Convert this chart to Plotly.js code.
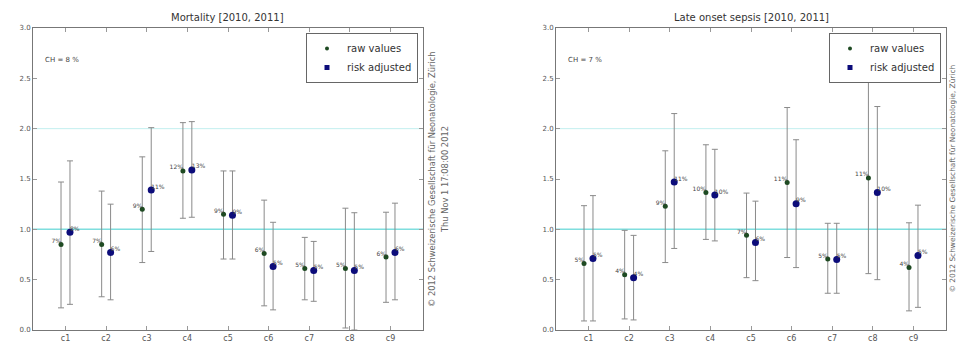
<!DOCTYPE html>
<html><head><meta charset="utf-8">
<script src="https://cdn.plot.ly/plotly-3.0.1.min.js"></script>
<style>html,body{margin:0;padding:0;background:#fff}#chart{width:957px;height:345px}</style>
</head><body><div id="chart"></div>
<script>
const categories = ['c1','c2','c3','c4','c5','c6','c7','c8','c9'];
const refLines = [1, 2];

// Mortality [2010, 2011], CH = 8 %
const mortRaw      = [0.85, 0.85, 1.20, 1.58, 1.15, 0.76, 0.61, 0.61, 0.725];
const mortRawLow   = [0.22, 0.33, 0.67, 1.11, 0.705, 0.24, 0.30, 0.02, 0.275];
const mortRawHigh  = [1.47, 1.38, 1.72, 2.06, 1.58, 1.29, 0.92, 1.21, 1.17];
const mortAdj      = [0.97, 0.77, 1.39, 1.59, 1.14, 0.63, 0.59, 0.59, 0.77];
const mortAdjLow   = [0.255, 0.30, 0.78, 1.12, 0.705, 0.20, 0.285, 0.0, 0.30];
const mortAdjHigh  = [1.68, 1.25, 2.01, 2.07, 1.58, 1.07, 0.88, 1.165, 1.26];
const mortRawLbl   = ['7%','7%','9%','12%','9%','6%','5%','5%','6%'];
const mortAdjLbl   = ['8%','6%','11%','13%','9%','5%','5%','5%','6%'];

// Late onset sepsis [2010, 2011], CH = 7 %
const sepRaw       = [0.66, 0.55, 1.23, 1.365, 0.94, 1.465, 0.705, 1.51, 0.62];
const sepRawLow    = [0.09, 0.11, 0.67, 0.90, 0.52, 0.72, 0.365, 0.56, 0.19];
const sepRawHigh   = [1.235, 0.99, 1.78, 1.84, 1.36, 2.21, 1.06, 2.475, 1.065];
const sepAdj       = [0.71, 0.52, 1.47, 1.34, 0.87, 1.255, 0.70, 1.365, 0.74];
const sepAdjLow    = [0.09, 0.10, 0.81, 0.885, 0.49, 0.62, 0.365, 0.50, 0.225];
const sepAdjHigh   = [1.335, 0.94, 2.15, 1.795, 1.28, 1.89, 1.06, 2.22, 1.24];
const sepRawLbl    = ['5%','4%','9%','10%','7%','11%','5%','11%','4%'];
const sepAdjLbl    = ['5%','4%','11%','10%','6%','9%','5%','10%','5%'];

const panels = [
  {title:'Mortality [2010, 2011]', ch:'CH = 8 %', raw:mortRaw, rl:mortRawLow, rh:mortRawHigh,
   adj:mortAdj, al:mortAdjLow, ah:mortAdjHigh, rlab:mortRawLbl, alab:mortAdjLbl},
  {title:'Late onset sepsis [2010, 2011]', ch:'CH = 7 %', raw:sepRaw, rl:sepRawLow, rh:sepRawHigh,
   adj:sepAdj, al:sepAdjLow, ah:sepAdjHigh, rlab:sepRawLbl, alab:sepAdjLbl}
];

const RAWC = '#1e4a22', ADJC = '#0c0c7a', ERRC = '#8a8a8a';
const OFF = 0.11;
const traces = [];
const shapes = [];
const annotations = [];
const layout = {
  width:957, height:345, margin:{l:0,r:0,t:0,b:0},
  paper_bgcolor:'#fff', plot_bgcolor:'#fff', showlegend:true,
  font:{family:'DejaVu Sans, sans-serif', color:'#333'},
  shapes:shapes, annotations:annotations
};
const domains = [[33/957, 423/957],[556/957, 946/957]];

panels.forEach((p, k) => {
  const xa = k === 0 ? 'x' : 'x2', ya = k === 0 ? 'y' : 'y2';
  const lg = k === 0 ? 'legend' : 'legend2';
  const pos = categories.map((c, i) => i + 1);
  const xr = pos.map(v => v - OFF), xj = pos.map(v => v + OFF);
  traces.push({
    type:'scatter', mode:'markers', x:xr, y:p.raw, xaxis:xa, yaxis:ya, showlegend:false,
    marker:{color:RAWC, size:5},
    error_y:{type:'data', symmetric:false, array:p.rh.map((h,i)=>h-p.raw[i]),
             arrayminus:p.raw.map((v,i)=>v-p.rl[i]), color:ERRC, thickness:1, width:3}
  });
  traces.push({
    type:'scatter', mode:'markers', x:xj, y:p.adj, xaxis:xa, yaxis:ya, showlegend:false,
    marker:{color:ADJC, size:7},
    error_y:{type:'data', symmetric:false, array:p.ah.map((h,i)=>h-p.adj[i]),
             arrayminus:p.adj.map((v,i)=>v-p.al[i]), color:ERRC, thickness:1, width:3}
  });
  // legend entries (small markers, as in the reference legend)
  traces.push({type:'scatter', mode:'markers', x:[null], y:[null], xaxis:xa, yaxis:ya,
    name:'raw values', legend:lg, marker:{color:RAWC, size:4}});
  traces.push({type:'scatter', mode:'markers', x:[null], y:[null], xaxis:xa, yaxis:ya,
    name:'risk adjusted', legend:lg, marker:{color:ADJC, size:5, symbol:'square'}});
  traces.push({type:'scatter', mode:'text', x:xr, y:p.raw, xaxis:xa, yaxis:ya, showlegend:false,
    text:p.rlab, textposition:'top left', textfont:{size:6, color:'#444'}, hoverinfo:'skip'});
  traces.push({type:'scatter', mode:'text', x:xj, y:p.adj, xaxis:xa, yaxis:ya, showlegend:false,
    text:p.alab, textposition:'top right', textfont:{size:6, color:'#444'}, hoverinfo:'skip'});

  const axName = k === 0 ? '' : '2';
  layout['xaxis'+axName] = {
    domain:domains[k], anchor:ya, range:[0.2, 9.8], tickvals:categories.map((c,i)=>i+1), ticktext:categories,
    showgrid:false, zeroline:false, showline:true, linecolor:'#777', linewidth:1, mirror:'ticks',
    ticks:'inside', ticklen:4, tickcolor:'#999', tickfont:{size:8, color:'#555'}
  };
  layout['yaxis'+axName] = {
    domain:[1-330/345, 1-28/345], anchor:xa, range:[0, 3], tickvals:[0,0.5,1,1.5,2,2.5,3],
    ticktext:['0.0','0.5','1.0','1.5','2.0','2.5','3.0'],
    showgrid:false, zeroline:false, showline:true, linecolor:'#777', linewidth:1, mirror:'ticks',
    ticks:'inside', ticklen:4, tickcolor:'#999', tickfont:{size:7, color:'#555'}
  };
  layout[lg] = {
    x:domains[k][1] - 5/957, xanchor:'right', y:1 - 33/345, yanchor:'top',
    bgcolor:'#fff', bordercolor:'#666', borderwidth:1, font:{size:10, color:'#333'},
    itemwidth:30, tracegroupgap:0
  };
  refLines.forEach((v, j) => {
    shapes.push({type:'line', xref:xa+' domain', yref:ya, x0:0, x1:1, y0:v, y1:v,
      line:{color: j === 0 ? '#7fdede' : '#c2efef', width: j === 0 ? 1.5 : 1}, layer:'below'});
  });
  annotations.push({xref:xa+' domain', yref:ya+' domain', x:0.5, y:1, yanchor:'bottom', yshift:3,
    text:p.title, showarrow:false, font:{size:10, color:'#333'}});
  annotations.push({xref:xa+' domain', yref:ya+' domain', x:0.025, y:0.915, xanchor:'left',
    text:p.ch, showarrow:false, font:{size:7, color:'#444'}});
  annotations.push({xref:xa+' domain', yref:ya+' domain', x:1, y:0.5, xanchor:'left', xshift: k === 0 ? 3 : 0,
    text:'© 2012 Schweizerische Gesellschaft für Neonatologie, Zürich', textangle:-90, borderpad:0,
    showarrow:false, font:{size: k === 0 ? 8.3 : 7.4, color:'#666'}});
  if (k === 0) {
    annotations.push({xref:xa+' domain', yref:ya+' domain', x:1, y:0.5, xanchor:'left', xshift:15,
      text:'Thu Nov 1 17:08:00 2012', textangle:-90, showarrow:false, font:{size:8.3, color:'#666'}});
  }
});

Plotly.newPlot('chart', traces, layout, {displayModeBar:false, staticPlot:true});
</script></body></html>
